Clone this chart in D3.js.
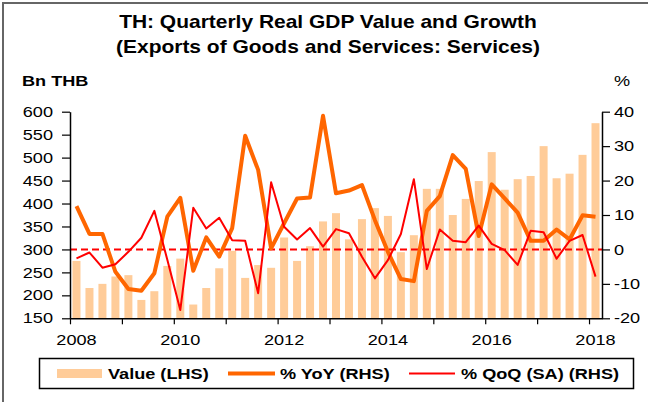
<!DOCTYPE html>
<html>
<head>
<meta charset="utf-8">
<script src="https://cdn.jsdelivr.net/npm/d3@7"></script>
<style>
  body { margin: 0; background: #fff; }
  text { font-family: "Liberation Sans", Arial, sans-serif; fill: #000; }
</style>
</head>
<body>
<svg width="648" height="402"></svg>
<script>
// quarterly categories, 2008Q1 .. 2018Q1
const quarters = [
  "2008Q1","2008Q2","2008Q3","2008Q4","2009Q1","2009Q2","2009Q3","2009Q4",
  "2010Q1","2010Q2","2010Q3","2010Q4","2011Q1","2011Q2","2011Q3","2011Q4",
  "2012Q1","2012Q2","2012Q3","2012Q4","2013Q1","2013Q2","2013Q3","2013Q4",
  "2014Q1","2014Q2","2014Q3","2014Q4","2015Q1","2015Q2","2015Q3","2015Q4",
  "2016Q1","2016Q2","2016Q3","2016Q4","2017Q1","2017Q2","2017Q3","2017Q4",
  "2018Q1"
];
// Value (LHS), Bn THB
const valueLHS = [
  275, 216, 225, 241, 244, 190, 209, 264, 280, 180, 216, 259, 297, 238, 266, 260,
  326, 275, 307, 361, 379, 322, 366, 390, 373, 294, 331, 432, 432, 375, 410, 449,
  512, 430, 453, 460, 525, 455, 465, 506, 575
];
// % YoY (RHS)
const yoy = [
  12.6, 4.5, 4.5, -6.5, -11.5, -12, -6.9, 9.5, 15, -6.2, 3.5, -2.1, 6.2, 33, 23.1, 0.3,
  7.6, 14.8, 15.1, 38.8, 16.3, 17.1, 18.7, 8.5, -0.7, -8.6, -9.2, 11.2, 15.5, 27.4, 23.4, 3.9,
  18.9, 14.8, 10.7, 2.5, 2.5, 5.8, 2.9, 9.9, 9.5
];
// % QoQ (SA) (RHS)
const qoq = [
  -2.6, -0.9, -5.3, -4.3, -0.7, 3.4, 11.2, -3, -17.6, 12.1, 6.1, 9.2, 2.7, 2.5, -12.7, 19.5,
  6.6, 2.9, 6.2, 0.8, 5.9, 4.7, -2.1, -8.4, -3.1, 4.5, 20.4, -5.7, 5.8, 2.5, 2.1, 6.9,
  1.6, -0.2, -4.5, 5.4, 5, -2.7, 2.5, 4.2, -7.9
];
const leftTicks = [150, 200, 250, 300, 350, 400, 450, 500, 550, 600];
const rightTicks = [-20, -10, 0, 10, 20, 30, 40];
const yearTicks = [2008, 2009, 2010, 2011, 2012, 2013, 2014, 2015, 2016, 2017, 2018];
const yearLabels = [2008, 2010, 2012, 2014, 2016, 2018];
const legendItems = ["Value (LHS)", "% YoY (RHS)", "% QoQ (SA) (RHS)"];

const svg = d3.select("svg");
const SX = 1.25; // text in the picture is drawn a bit wide
const fs = 14.5;

const margin = { top: 111.7, right: 46, bottom: 83.7, left: 70 };
const width = +svg.attr("width");
const height = +svg.attr("height");
const innerW = width - margin.left - margin.right;
const innerH = height - margin.top - margin.bottom;

const qTime = q => +q.slice(0, 4) + (+q.slice(5) - 1) * 0.25 + 0.125;

const x = d3.scaleLinear().domain([2008, 2018.25]).range([0, innerW]);
const yL = d3.scaleLinear().domain([150, 600]).range([innerH, 0]);
const yR = d3.scaleLinear().domain([-20, 40]).range([innerH, 0]);

// outer frame
svg.append("rect")
  .attr("x", 3).attr("y", 3).attr("width", 700).attr("height", 500)
  .attr("fill", "none").attr("stroke", "#666").attr("stroke-width", 2);

const wideText = (sel, tx, ty, str, size, weight, anchor, sx) =>
  sel.append("text")
    .attr("transform", `translate(${tx},${ty}) scale(${sx || SX},1)`)
    .attr("text-anchor", anchor || "start")
    .style("font-size", size + "px")
    .style("font-weight", weight || "normal")
    .text(str);

// title
wideText(svg, 328, 28, "TH: Quarterly Real GDP Value and Growth", 18, "bold", "middle", 1.165);
wideText(svg, 328, 53, "(Exports of Goods and Services: Services)", 18, "bold", "middle", 1.165);
wideText(svg, 22, 86, "Bn THB", fs, "bold");
wideText(svg, 614, 86, "%", fs);

const g = svg.append("g").attr("transform", `translate(${margin.left},${margin.top})`);

// bars
const barW = 8;
g.selectAll("rect.bar").data(quarters)
  .enter().append("rect")
  .attr("class", "bar")
  .attr("x", (d, i) => x(qTime(d)) - barW / 2)
  .attr("y", (d, i) => yL(valueLHS[i]))
  .attr("width", barW)
  .attr("height", (d, i) => innerH - yL(valueLHS[i]))
  .attr("fill", "#FFCC99");

// zero line
g.append("line")
  .attr("x1", 0).attr("x2", innerW)
  .attr("y1", yR(0)).attr("y2", yR(0))
  .attr("stroke", "#FF0000").attr("stroke-width", 2)
  .attr("stroke-dasharray", "7,4");

const lineOf = vals => d3.line()
  .x((d, i) => x(qTime(quarters[i])))
  .y(d => yR(d))(vals);

g.append("path").attr("d", lineOf(yoy))
  .attr("fill", "none").attr("stroke", "#FF6600")
  .attr("stroke-width", 4).attr("stroke-linejoin", "round");

g.append("path").attr("d", lineOf(qoq))
  .attr("fill", "none").attr("stroke", "#FF0000")
  .attr("stroke-width", 2).attr("stroke-linejoin", "round");

// axes
const styleAxis = ax => {
  ax.select(".domain").attr("stroke", "#000").attr("stroke-width", 1.5);
  ax.selectAll(".tick line").attr("stroke", "#000").attr("stroke-width", 1.2);
  ax.selectAll("text")
    .style("font-size", fs + "px")
    .style("font-family", '"Liberation Sans", Arial, sans-serif')
    .attr("fill", "#000");
};

const axL = g.append("g")
  .call(d3.axisLeft(yL).tickValues(leftTicks).tickSize(8).tickSizeOuter(0)
    .tickPadding(9).tickFormat(d => String(d)));
styleAxis(axL);
axL.selectAll("text").attr("x", -17 / SX).attr("transform", `scale(${SX},1)`);

const axR = g.append("g").attr("transform", `translate(${innerW},0)`)
  .call(d3.axisRight(yR).tickValues(rightTicks).tickSize(8).tickSizeOuter(0)
    .tickPadding(4).tickFormat(d => String(d)));
styleAxis(axR);
axR.selectAll("text").attr("x", 12 / SX).attr("transform", `scale(${SX},1)`);

const axB = g.append("g").attr("transform", `translate(0,${innerH})`)
  .call(d3.axisBottom(x).tickValues(yearTicks).tickSize(6).tickSizeOuter(0).tickFormat(""));
styleAxis(axB);

g.append("g").selectAll("text").data(yearLabels)
  .enter().append("text")
  .attr("transform", d => `translate(${x(d + 0.125)},${innerH + 26.5}) scale(${SX},1)`)
  .attr("text-anchor", "middle")
  .style("font-size", fs + "px")
  .text(d => d);

// legend
const lg = svg.append("g");
lg.append("rect")
  .attr("x", 39.5).attr("y", 358.5).attr("width", 594).attr("height", 30)
  .attr("fill", "#fff").attr("stroke", "#000").attr("stroke-width", 1.5);
lg.append("rect").attr("x", 57).attr("y", 369).attr("width", 45).attr("height", 9).attr("fill", "#FFCC99");
wideText(lg, 108, 379, legendItems[0], fs, "bold");
lg.append("line").attr("x1", 228).attr("x2", 275).attr("y1", 373.5).attr("y2", 373.5)
  .attr("stroke", "#FF6600").attr("stroke-width", 4);
wideText(lg, 280, 379, legendItems[1], fs, "bold");
lg.append("line").attr("x1", 409).attr("x2", 455).attr("y1", 373.5).attr("y2", 373.5)
  .attr("stroke", "#FF0000").attr("stroke-width", 2);
wideText(lg, 461, 379, legendItems[2], fs, "bold");
</script>
</body>
</html>
